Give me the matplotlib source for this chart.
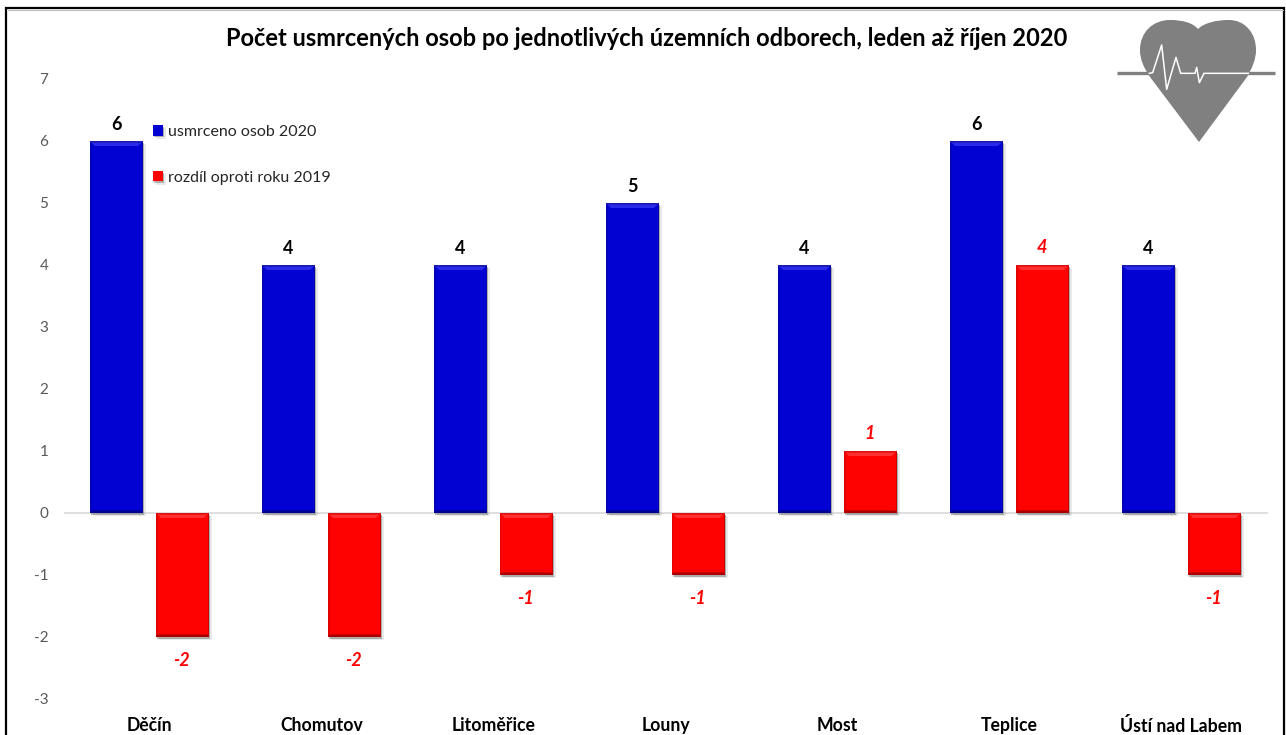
import numpy as np
import matplotlib
matplotlib.use('Agg')
import matplotlib.pyplot as plt
import matplotlib.patheffects as pe
from matplotlib.patches import PathPatch, Polygon
from matplotlib.path import Path

plt.rcParams['font.family'] = ['Lato', 'DejaVu Sans']
plt.rcParams['axes.unicode_minus'] = False

# data
okresy = ['Děčín', 'Chomutov', 'Litoměřice', 'Louny', 'Most', 'Teplice', 'Ústí nad Labem']
usmrceno = [6, 4, 4, 5, 4, 6, 4]
rozdil = [-2, -2, -1, -1, 1, 4, -1]
y_ticks = [-3, -2, -1, 0, 1, 2, 3, 4, 5, 6, 7]

W, H = 1286, 735
fig = plt.figure(figsize=(W / 100, H / 100), dpi=100)
ax = fig.add_axes([63.5 / W, 1 - 699 / H, 1204 / W, 620 / H])


def bevel(ax, bars, top_edge, light, dark):
    # Excel style bevel on each bar
    dx, dy = 5.0 / 172, 5.0 / 62
    sx = 1.5 / 172
    for b in bars:
        x0, x1 = b.get_x(), b.get_x() + b.get_width()
        y0, y1 = sorted([b.get_y(), b.get_y() + b.get_height()])
        ax.add_patch(Polygon([(x0, y0), (x0, y1), (x0 + sx, y1), (x0 + sx, y0)],
                             fc=dark, ec='none', alpha=0.35, zorder=3))
        ax.add_patch(Polygon([(x1, y0), (x1, y1), (x1 - sx, y1), (x1 - sx, y0)],
                             fc=dark, ec='none', alpha=0.6, zorder=3))
        ax.add_patch(Polygon([(x0, y1), (x1, y1), (x1 - dx, y1 - dy), (x0 + dx, y1 - dy)],
                             fc=light, ec='none', zorder=3))
        ax.add_patch(Polygon([(x0, y1), (x1, y1), (x1 - dx / 3, y1 - dy / 3), (x0 + dx / 3, y1 - dy / 3)],
                             fc=top_edge, ec='none', zorder=3))
        ax.add_patch(Polygon([(x0, y0), (x1, y0), (x1 - sx, y0 + dy / 2), (x0 + sx, y0 + dy / 2)],
                             fc=dark, ec='none', zorder=3))


x = np.arange(len(okresy))
w = 53 / 172
off = 33 / 172
shadow = [pe.SimplePatchShadow(offset=(2.0, -2.2), shadow_rgbFace='#888888', alpha=0.18),
          pe.SimplePatchShadow(offset=(0.8, -1.2), shadow_rgbFace='#555555', alpha=0.4),
          pe.Normal()]

b1 = ax.bar(x - off, usmrceno, w, color='#0202d2', label='usmrceno osob 2020', zorder=2)
b2 = ax.bar(x + off, rozdil, w, color='#fe0202', label='rozdíl oproti roku 2019', zorder=2)
for b in list(b1) + list(b2):
    b.set_path_effects(shadow)
bevel(ax, b1, '#1a1ab0', '#2a2ae8', '#02028e')
bevel(ax, b2, '#e01010', '#ff3030', '#a80000')

# popisky hodnot
for i, v in enumerate(usmrceno):
    ax.annotate(str(v), (x[i] - off, v), xytext=(0, 16.5 * 0.72), textcoords='offset points',
                ha='center', va='center', fontsize=13, fontweight='bold', color='black')
for i, v in enumerate(rozdil):
    d = 17 if v > 0 else -23.5
    ax.annotate(str(v), (x[i] + off - 1 / 172, v), xytext=(0, d * 0.72), textcoords='offset points',
                ha='center', va='center', fontsize=13, fontweight='bold', fontstyle='italic',
                color='#fe0202')

ax.set_xlim(-0.5, 6.5)
ax.set_ylim(-3, 7)
ax.set_yticks(y_ticks)
ax.set_xticks(x)
ax.set_xticklabels(okresy, fontsize=12.7, fontweight='bold', color='black')
ax.tick_params(axis='x', length=0, pad=13)
ax.tick_params(axis='y', length=0, pad=11, labelsize=11, labelcolor='#595959')
for s in ax.spines.values():
    s.set_visible(False)
ax.axhline(0, color='#d9d9d9', lw=1.2, zorder=1)

leg = ax.legend(loc='upper left', bbox_to_anchor=(89.5 / 1204, 1 - 46 / 620), frameon=False,
                fontsize=11.5, handlelength=0.62, handleheight=0.62, handletextpad=0.3,
                labelspacing=2.0, borderpad=0, borderaxespad=0, labelcolor='#262626')

fig.text(646.5 / W, 1 - 39 / H, 'Počet usmrcených osob po jednotlivých územních odborech, leden až říjen 2020',
         ha='center', va='center', fontsize=17, fontweight='bold', color='black')

# overlay in pixels: frame and heart logo
ov = fig.add_axes([0, 0, 1, 1], zorder=5)
ov.set_xlim(0, W)
ov.set_ylim(H, 0)
ov.axis('off')
ov.patch.set_alpha(0)

ov.plot([6, 6, 1284, 1284], [H, 7.5, 7.5, H], color='black', lw=1.6, solid_joinstyle='miter')
ov.plot([7.5, 1282.5], [9.5, 9.5], color='#bdbdbd', lw=0.8)

heart = Path(
    [(1199, 142), (1150, 77),
     (1144, 68), (1140, 60), (1140, 50),
     (1140, 32), (1153, 20), (1170, 20),
     (1183, 20), (1193, 23), (1198, 29),
     (1204, 23), (1216, 20), (1229, 20),
     (1245, 20), (1256, 33), (1256, 50),
     (1256, 60), (1252, 68), (1247, 77),
     (1199, 142)],
    [Path.MOVETO, Path.LINETO] + [Path.CURVE4] * 18 + [Path.LINETO])
ov.add_patch(PathPatch(heart, fc='#808080', ec='none'))
ov.plot([1117, 1275], [73, 73], color='#808080', lw=2.4, solid_capstyle='butt')
ecg = np.array([(178, 220), (188, 218), (215, 135), (230, 268), (258, 172), (272, 220), (315, 220),
                (320, 202), (328, 248), (342, 220), (475, 220)], dtype=float)
ov.plot(ecg[:, 0] / 3 + 1090, ecg[:, 1] / 3, color='white', lw=1.1)

fig.savefig('out.png', dpi=100, facecolor='white')
